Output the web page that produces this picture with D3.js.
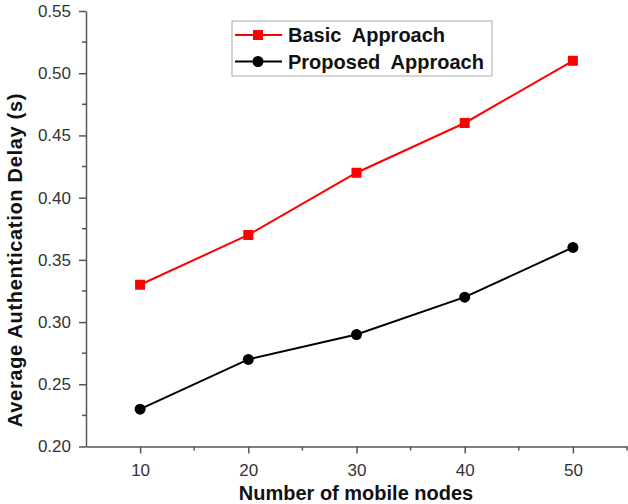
<!DOCTYPE html>
<html>
<head>
<meta charset="utf-8">
<script src="https://cdn.jsdelivr.net/npm/d3@7"></script>
<style>
  body { margin: 0; background: #fff; }
  svg { display: block; font-family: Arial, "Liberation Sans", sans-serif; }
</style>
</head>
<body>
<div id="chart"></div>
<script>
var nodes = [10, 20, 30, 40, 50];
var basic = [0.33, 0.37, 0.42, 0.46, 0.51];
var proposed = [0.23, 0.27, 0.29, 0.32, 0.36];
var xTicks = [10, 20, 30, 40, 50];
var yTicks = [0.20, 0.25, 0.30, 0.35, 0.40, 0.45, 0.50, 0.55];
var seriesNames = ['Basic  Approach', 'Proposed  Approach'];

var width = 628;
var height = 504;

var svg = d3.select('#chart')
    .append('svg')
    .attr('width', width)
    .attr('height', height);

var x = d3.scaleLinear().domain([5, 55]).range([86, 627]);
var y = d3.scaleLinear().domain([0.20, 0.55]).range([446.5, 11]);

var axisColor = '#555';

// x axis
var xAxis = svg.append('g')
    .attr('transform', 'translate(0,' + y(0.20) + ')')
    .call(d3.axisBottom(x).tickValues(xTicks).tickSize(7).tickSizeOuter(0).tickPadding(10));
xAxis.append('g')
    .selectAll('line')
    .data([15, 25, 35, 45, 55])
    .enter()
    .append('line')
    .attr('x1', function(d) { return x(d); })
    .attr('x2', function(d) { return x(d); })
    .attr('y1', 0)
    .attr('y2', 4);

// y axis
var yAxis = svg.append('g')
    .attr('transform', 'translate(' + x(5) + ',0)')
    .call(d3.axisLeft(y).tickValues(yTicks).tickSize(7).tickSizeOuter(0).tickPadding(8)
        .tickFormat(d3.format('.2f')));
yAxis.append('g')
    .selectAll('line')
    .data([0.225, 0.275, 0.325, 0.375, 0.425, 0.475, 0.525])
    .enter()
    .append('line')
    .attr('y1', function(d) { return y(d); })
    .attr('y2', function(d) { return y(d); })
    .attr('x1', 0)
    .attr('x2', -4);

[xAxis, yAxis].forEach(function(ax) {
    ax.selectAll('path, line').attr('stroke', axisColor).attr('stroke-width', 1.5);
    ax.selectAll('text')
        .attr('fill', '#333')
        .style('font-size', '17px')
        .style('font-family', 'Arial, "Liberation Sans", sans-serif');
});

// axis titles
svg.append('text')
    .attr('x', 356)
    .attr('y', 500)
    .attr('text-anchor', 'middle')
    .style('font-size', '20px')
    .style('font-weight', 'bold')
    .attr('fill', '#111')
    .text('Number of mobile nodes');

svg.append('text')
    .attr('transform', 'translate(22,260) rotate(-90)')
    .attr('text-anchor', 'middle')
    .style('font-size', '20px')
    .style('font-weight', 'bold')
    .style('letter-spacing', '0.7px')
    .attr('fill', '#111')
    .text('Average Authentication Delay (s)');

// lines
var line = d3.line()
    .x(function(d) { return x(d[0]); })
    .y(function(d) { return y(d[1]); });

var basicData = nodes.map(function(n, i) { return [n, basic[i]]; });
var proposedData = nodes.map(function(n, i) { return [n, proposed[i]]; });

svg.append('path')
    .datum(basicData)
    .attr('d', line)
    .attr('fill', 'none')
    .attr('stroke', '#ff0000')
    .attr('stroke-width', 2);

svg.append('path')
    .datum(proposedData)
    .attr('d', line)
    .attr('fill', 'none')
    .attr('stroke', '#000')
    .attr('stroke-width', 2);

svg.selectAll('rect.basic')
    .data(basicData)
    .enter()
    .append('rect')
    .attr('class', 'basic')
    .attr('x', function(d) { return x(d[0]) - 5; })
    .attr('y', function(d) { return y(d[1]) - 5; })
    .attr('width', 10)
    .attr('height', 10)
    .attr('fill', '#ff0000');

svg.selectAll('circle.proposed')
    .data(proposedData)
    .enter()
    .append('circle')
    .attr('class', 'proposed')
    .attr('cx', function(d) { return x(d[0]); })
    .attr('cy', function(d) { return y(d[1]); })
    .attr('r', 5.5)
    .attr('fill', '#000');

// legend
var legend = svg.append('g');
legend.append('rect')
    .attr('x', 232)
    .attr('y', 21)
    .attr('width', 260)
    .attr('height', 55)
    .attr('fill', '#fff')
    .attr('stroke', '#aaa')
    .attr('stroke-width', 1);

var colors = ['#ff0000', '#000'];
seriesNames.forEach(function(name, i) {
    var ly = 35 + i * 26.5;
    legend.append('line')
        .attr('x1', 235)
        .attr('x2', 282)
        .attr('y1', ly)
        .attr('y2', ly)
        .attr('stroke', colors[i])
        .attr('stroke-width', 2);
    if (i === 0) {
        legend.append('rect')
            .attr('x', 253).attr('y', ly - 5)
            .attr('width', 10).attr('height', 10)
            .attr('fill', colors[i]);
    } else {
        legend.append('circle')
            .attr('cx', 258).attr('cy', ly)
            .attr('r', 5.5)
            .attr('fill', colors[i]);
    }
    legend.append('text')
        .attr('x', 288)
        .attr('y', ly + 7)
        .style('font-size', '20px')
        .style('font-weight', 'bold')
        .style('white-space', 'pre')
        .attr('fill', '#111')
        .text(name);
});
</script>
</body>
</html>
